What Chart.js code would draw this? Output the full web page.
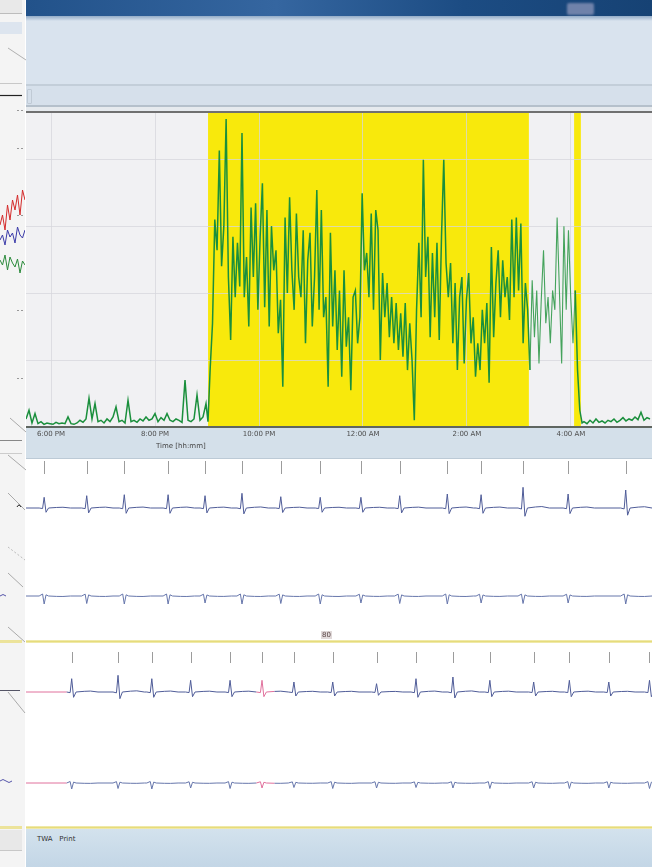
<!DOCTYPE html>
<html><head><meta charset="utf-8">
<script src="https://cdn.jsdelivr.net/npm/chart.js@4.4.1/dist/chart.umd.min.js"></script>
<style>
html,body{margin:0;padding:0;width:652px;height:867px;overflow:hidden;background:#fff;font-family:"DejaVu Sans",sans-serif;}
.a{position:absolute;}
#left{left:0;top:0;width:25px;height:867px;background:#f4f4f4;}
#hdr{left:26px;top:0;width:626px;height:16px;background:linear-gradient(90deg,#22528a 0%,#3566a0 40%,#1c4c83 70%,#164274 100%);}
#icon{left:567px;top:3px;width:27px;height:12px;background:#6f82aa;border-radius:2px;filter:blur(1px);}
#hdr2{left:26px;top:16px;width:626px;height:5px;background:linear-gradient(#93acc8,#d9e3ee);}
#panel{left:26px;top:21px;width:626px;height:63px;background:#d9e3ee;}
#l1{left:26px;top:84px;width:626px;height:2px;background:#c3ced9;}
#tool{left:26px;top:86px;width:626px;height:19px;background:#d6e0eb;}
#tool:before{content:"";position:absolute;left:1px;top:3px;width:3px;height:13px;border:1px solid #c0cad5;border-radius:1px;}
#l2{left:26px;top:105px;width:626px;height:2px;background:#b5c0cb;}
#gap{left:26px;top:107px;width:626px;height:4px;background:#e6eaee;}
#frame{left:26px;top:111px;width:626px;height:2px;background:#707070;}
#mainWrap{left:26px;top:113px;width:626px;height:345px;background:#d4e0ea;border-bottom:1px solid #bccad6;}
#xtitle{left:156px;top:442px;font-size:7px;color:#444;white-space:nowrap;}
#sep1{left:26px;top:640px;width:626px;height:3px;background:linear-gradient(#f4efbe,#e6dc7c,#f4efbe);}
#sep2{left:26px;top:826px;width:626px;height:3px;background:linear-gradient(#f4efbe,#e6dc7c,#f4efbe);}
#lab80{left:321px;top:631px;font-size:7px;color:#5b4646;background:rgba(170,150,150,0.35);padding:0 1px;}
#bottom{left:26px;top:829px;width:626px;height:38px;background:linear-gradient(#d3e2ed,#c3d6e6);}
#twa{left:37px;top:835px;font-size:7px;color:#333;white-space:nowrap;}
</style></head>
<body>
<div id="left" class="a"></div>
<svg class="a" style="left:0;top:0" width="27" height="867">
  <rect x="0" y="0" width="22" height="13" fill="#e9e9e9"/>
  <line x1="0" y1="13.5" x2="22" y2="13.5" stroke="#bdbdbd"/>
  <rect x="0" y="22" width="22" height="12" fill="#dde5ef"/>
  <line x1="8" y1="48" x2="26" y2="60" stroke="#b0b0b0"/>
  <line x1="0" y1="83.5" x2="22" y2="83.5" stroke="#c8c8c8"/>
  <line x1="0" y1="95.5" x2="22" y2="95.5" stroke="#222" stroke-width="1.2"/>
  <g stroke="#999" stroke-dasharray="2,2">
    <line x1="17" y1="110.5" x2="25" y2="110.5"/><line x1="17" y1="148.5" x2="25" y2="148.5"/>
    <line x1="17" y1="215.5" x2="25" y2="215.5"/><line x1="17" y1="310.5" x2="25" y2="310.5"/>
    <line x1="17" y1="378.5" x2="25" y2="378.5"/>
  </g>
  <line x1="10" y1="418" x2="26" y2="432" stroke="#aaa"/>
  <line x1="0" y1="440.5" x2="22" y2="440.5" stroke="#888"/>
  <line x1="0" y1="453.5" x2="22" y2="453.5" stroke="#ccc"/>
  <line x1="8" y1="455" x2="26" y2="470" stroke="#aaa"/>
  <line x1="8" y1="493" x2="25" y2="510" stroke="#aaa"/>
  <path d="M17 507 q2 -4 4 0" stroke="#222" fill="none"/>
  <line x1="8" y1="547" x2="25" y2="560" stroke="#bbb" stroke-dasharray="2,2"/>
  <line x1="8" y1="573" x2="23" y2="587" stroke="#aaa"/>
  <path d="M0 596 q3 -3 6 0" stroke="#55a" fill="none"/>
  <line x1="8" y1="627" x2="25" y2="642" stroke="#aaa"/>
  <rect x="0" y="640" width="22" height="3" fill="#ece39a"/>
  <line x1="0" y1="690.5" x2="20" y2="690.5" stroke="#556"/>
  <line x1="8" y1="692" x2="25" y2="713" stroke="#aaa"/>
  <path d="M0 781 q3 -3 6 0 t6 0" stroke="#55a" fill="none"/>
  <rect x="0" y="826" width="22" height="3" fill="#ece39a"/>
  <rect x="0" y="830" width="22" height="20" fill="#e8e8e8"/>
  <line x1="0" y1="850.5" x2="22" y2="850.5" stroke="#c8c8c8"/>
</svg>
<canvas id="leftChart" class="a" style="left:0;top:185px" width="25" height="100"></canvas>

<div id="hdr" class="a"></div><div id="icon" class="a"></div>
<div id="hdr2" class="a"></div>
<div id="panel" class="a"></div>
<div id="l1" class="a"></div>
<div id="tool" class="a"></div>
<div id="l2" class="a"></div>
<div id="gap" class="a"></div>
<div id="frame" class="a"></div>
<div id="mainWrap" class="a"><canvas id="main" width="626" height="345"></canvas></div>
<div id="xtitle" class="a">Time [hh:mm]</div>
<canvas id="ecg1" class="a" style="left:26px;top:459px" width="626" height="182"></canvas>
<div id="sep1" class="a"></div>
<div id="lab80" class="a">80</div>
<canvas id="ecg2" class="a" style="left:26px;top:644px" width="626" height="183"></canvas>
<div id="sep2" class="a"></div>
<div id="bottom" class="a"></div>
<div id="twa" class="a">TWA&nbsp;&nbsp;&nbsp;Print</div>

<script>
// ---------- main trend chart data (x in hours, 18 = 6:00 PM) ----------
const tickHours = [18, 20, 22, 24, 26, 28];
const tickLabels = ['6:00 PM', '8:00 PM', '10:00 PM', '12:00 AM', '2:00 AM', '4:00 AM'];
const bandStart = [21.02, 28.06];
const bandEnd   = [27.19, 28.19];

const eveningStart = 17.519, eveningStep = 0.0577;
const eveningValues = [
  0.12,0.25,0.06,0.2,0.05,0.08,0.04,0.06,0.05,0.04,
  0.07,0.05,0.06,0.05,0.15,0.05,0.04,0.06,0.1,0.07,
  0.12,0.43,0.12,0.35,0.08,0.1,0.06,0.12,0.08,0.15,
  0.3,0.08,0.1,0.06,0.4,0.08,0.1,0.07,0.12,0.09,
  0.15,0.1,0.12,0.2,0.08,0.14,0.1,0.2,0.1,0.08,
  0.12,0.1,0.07,0.7,0.1,0.08,0.12,0.48,0.1,0.15,
  0.35];

const activeStart = 21.019, activeStep = 0.0436;
const activeValues = [
  0.08,0.9,1.55,3.1,2.64,4.13,2.4,3.0,4.6,2.24,
  1.3,2.84,1.94,2.75,2.1,4.39,1.94,2.54,1.5,3.28,
  2.24,3.34,1.75,2.84,3.64,1.79,3.24,1.5,3.0,2.34,
  2.64,1.4,1.9,0.6,3.13,2.0,3.43,2.34,1.75,3.19,
  2.24,1.94,2.94,1.25,2.49,2.9,1.5,2.24,3.54,1.75,
  3.24,1.64,1.94,0.6,2.9,1.5,2.34,1.15,2.04,0.75,
  2.34,1.2,1.64,0.55,1.94,2.04,1.25,1.64,3.49,2.34,
  2.6,1.94,3.19,1.75,3.24,2.94,1.0,2.3,1.64,2.15,
  1.34,1.94,1.25,1.85,1.15,1.7,1.05,1.85,0.85,1.55,1.0,0.1,
  1.75,2.75,1.64,3.99,2.24,2.84,1.34,2.6,1.64,2.75,
  1.3,2.84,3.99,2.45,1.94,2.45,1.25,2.15,0.85,1.94,
  2.24,0.95,1.9,2.3,1.25,1.64,0.75,1.25,0.85,1.75,
  1.25,1.85,0.66,2.69,1.34,2.15,2.64,1.64,2.49,1.94,
  2.24,1.6,3.1,1.94,3.13,2.04,3.04,1.25,2.15,1.75,
  0.85,2.19,1.34,2.04,0.95,1.9,2.64,1.55,1.94,1.25,
  2.04,1.75,3.13,2.04,0.95,3.0,1.75,2.94,1.94,1.25,
  2.04,0.85,0.25,0.06];

const morningStart = 28.25, morningStep = 0.0577;
const morningValues = [0.08,0.05,0.1,0.06,0.12,0.07,0.09,0.06,0.1,0.08,0.12,0.07,0.1,0.14,0.09,0.12,0.1,0.15,0.11,0.22,0.1,0.14,0.12];

// ---------- ECG strip data (x in seconds, y in mV) ----------
const topBeats  = [0.29,0.97,1.57,2.27,2.86,3.45,4.07,4.70,5.35,5.97,6.73,7.27,7.94,8.66,9.58];
const topLeadA  = [1.07,1.23,1.33,1.33,1.23,1.47,1.13,1.07,1.07,1.23,1.4,1.33,2.07,1.4,1.8];
const topLeadB  = [0.8,0.75,0.8,0.8,0.7,0.8,0.75,0.8,0.7,0.75,0.8,0.7,0.75,0.7,0.8];
const bottomBeats = [0.73,1.47,2.01,2.63,3.26,3.77,4.28,4.90,5.60,6.23,6.82,7.41,8.11,8.68,9.31,9.96];
const bottomLeadA = [1.33,1.67,1.33,1.17,1.17,1.17,1.0,1.0,0.83,1.33,1.5,1.17,1.0,1.17,1.0,1.17];
const bottomLeadB = [0.6,0.55,0.6,0.5,0.55,0.5,0.45,0.55,0.5,0.45,0.5,0.55,0.5,0.55,0.5,0.55];
const qrsTime   = [-0.08,-0.025,0,0.03,0.07,0.2,0.3,0.42];
const qrsShapeA = [0,-0.05,1,-0.4,0,0.05,0.07,0];
const qrsShapeB = [0,0.25,-1,0.15,0,-0.05,-0.06,0];
const pinkRanges = [[0,0.22],[3.6,3.88]];

// ---------- left partial panel ----------
const leftRed   = [60,70,55,80,65,85,75,90,70,95,85];
const leftBlue  = [45,50,40,55,48,52,42,58,50,47,55];
const leftGreen = [25,20,30,15,28,22,18,26,12,24,20];

// ---------- build main chart ----------
function seg(start, step, vals){ return vals.map((v,i)=>({x:start+i*step, y:v})); }
const trendPoints = [].concat(seg(eveningStart,eveningStep,eveningValues),
                              seg(activeStart,activeStep,activeValues),
                              seg(morningStart,morningStep,morningValues));
const gridCol = 'rgba(214,214,220,0.75)';
const inBand = v => bandStart.some((s,i)=> v >= s && v <= bandEnd[i]);
const bandPlugin = {
  id:'bands',
  beforeDraw(chart){
    const {ctx, chartArea:a, scales:{x}} = chart;
    ctx.save();
    ctx.fillStyle = '#f1f1f3';
    ctx.fillRect(a.left, a.top, a.width, a.height);
    ctx.fillStyle = '#f8e90c';
    bandStart.forEach((s,i)=>{
      const x0 = x.getPixelForValue(s), x1 = x.getPixelForValue(bandEnd[i]);
      ctx.fillRect(x0, a.top, x1-x0, a.height);
    });
    ctx.restore();
  }
};
new Chart(document.getElementById('main'), {
  type:'line',
  data:{datasets:[{data:trendPoints, borderColor:'#1a8f3c', borderWidth:1.5, pointRadius:0, tension:0, fill:false,
    segment:{borderColor: c => (c.p0.parsed.x > 27.19 && c.p0.parsed.x < 28.06 && c.p0.parsed.y > 0.3) ? '#45a35c' : undefined,
             borderWidth: c => (c.p0.parsed.x > 27.19 && c.p0.parsed.x < 28.06) ? 1.1 : undefined}}]},
  options:{
    responsive:false, animation:false,
    layout:{padding:0},
    plugins:{legend:{display:false}, tooltip:{enabled:false}},
    scales:{
      x:{type:'linear', min:17.519, max:29.558,
        afterBuildTicks:s=>{ s.ticks = tickHours.map(v=>({value:v})); },
        afterFit:s=>{ s.height = 31; },
        grid:{color:gridCol, lineWidth:1, drawTicks:false},
        border:{display:true, color:'#5f6660', width:2},
        ticks:{padding:3, maxRotation:0, autoSkip:false, color:'#4d4d4d', font:{family:'DejaVu Sans', size:7},
               callback:(v,i)=>tickLabels[i]}},
      y:{min:0, max:4.69,
        afterBuildTicks:s=>{ s.ticks = [0,1,2,3,4].map(v=>({value:v})); },
        afterFit:s=>{ s.width = 0; },
        ticks:{display:false}, grid:{color:gridCol, drawTicks:false}, border:{display:false}}
    }
  },
  plugins:[bandPlugin]
});

// ---------- ECG strips ----------
function ecgPoints(beats, amps, shape, offset){
  const pts = [{x:0, y:offset}];
  beats.forEach((t,i)=>{ qrsTime.forEach((dt,k)=>{ pts.push({x:t+dt, y:offset + shape[k]*amps[i]}); }); });
  pts.push({x:10.5, y:offset});
  return pts;
}
const beatMarks = {
  id:'beatMarks',
  afterDatasetsDraw(chart, args, opts){
    const {ctx, scales:{x,y}} = chart;
    ctx.save(); ctx.strokeStyle = '#9c9c9c'; ctx.lineWidth = 1;
    opts.beats.forEach(t=>{
      const px = Math.round(x.getPixelForValue(t)) + 0.5;
      ctx.beginPath(); ctx.moveTo(px, y.getPixelForValue(opts.top)); ctx.lineTo(px, y.getPixelForValue(opts.bottom)); ctx.stroke();
    });
    ctx.restore();
  }
};
const inPink = v => pinkRanges.some(r => v >= r[0] && v <= r[1]);
function ecgChart(id, beats, ampA, ampB, layout, pink){
  const segOpt = pink ? {borderColor: c => inPink(c.p0.parsed.x) ? '#e0709c' : undefined} : undefined;
  new Chart(document.getElementById(id), {
    type:'line',
    data:{datasets:[
      {data:ecgPoints(beats, ampA, qrsShapeA, layout.offA), borderColor:'#4f5c98', borderWidth:1, pointRadius:0, tension:0, segment:segOpt},
      {data:ecgPoints(beats, ampB, qrsShapeB, layout.offB), borderColor:'#6676ab', borderWidth:1, pointRadius:0, tension:0, segment:segOpt}
    ]},
    options:{
      responsive:false, animation:false, layout:{padding:0},
      plugins:{legend:{display:false}, tooltip:{enabled:false}, beatMarks:{beats:beats, top:layout.markTop, bottom:layout.markBottom}},
      scales:{x:{type:'linear', min:0, max:10, display:false}, y:{min:layout.min, max:layout.max, display:false}}
    },
    plugins:[beatMarks]
  });
}
ecgChart('ecg1', topBeats, topLeadA, topLeadB, {offA:0, offB:-8.8, min:-13.3, max:4.9, markTop:4.7, markBottom:3.4}, false);
ecgChart('ecg2', bottomBeats, bottomLeadA, bottomLeadB, {offA:0, offB:-9.1, min:-13.5, max:4.8, markTop:4.0, markBottom:2.9}, true);

// ---------- left partial chart ----------
const leftX = leftRed.map((_,i)=>i);
new Chart(document.getElementById('leftChart'), {
  type:'line',
  data:{labels:leftX, datasets:[
    {data:leftRed, borderColor:'#d42a2a', borderWidth:1, pointRadius:0},
    {data:leftBlue, borderColor:'#3a3aa8', borderWidth:1, pointRadius:0},
    {data:leftGreen, borderColor:'#2a8a3a', borderWidth:1, pointRadius:0}
  ]},
  options:{responsive:false, animation:false, layout:{padding:0},
    plugins:{legend:{display:false}, tooltip:{enabled:false}},
    scales:{x:{display:false}, y:{min:0, max:100, display:false}}}
});
</script>
</body></html>
